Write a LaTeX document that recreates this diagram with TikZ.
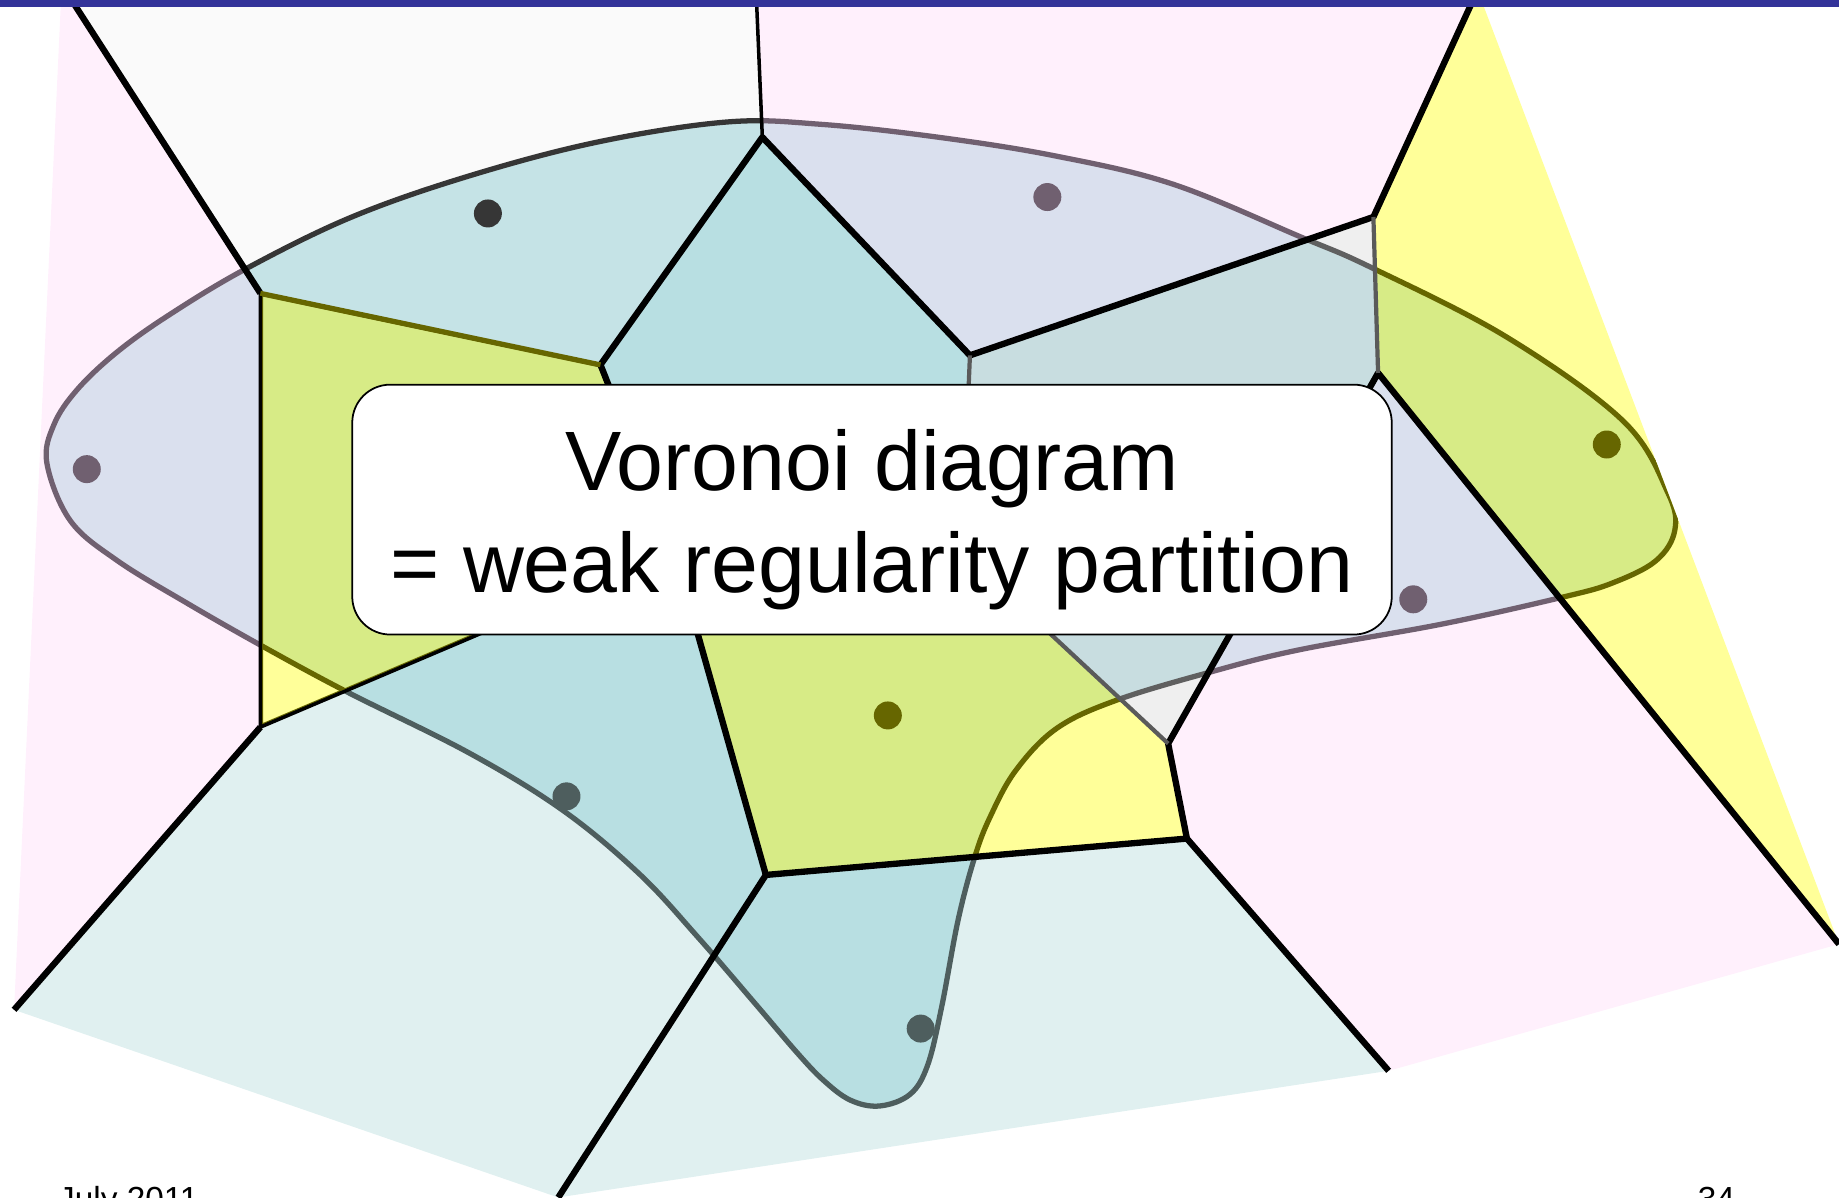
\documentclass[tikz,border=0pt]{standalone}
\usepackage{fontspec}
\setmainfont{Liberation Sans}
\usepackage{tikz}

\definecolor{barblue}{HTML}{333399}
\definecolor{pinkout}{HTML}{FFF0FC}
\definecolor{pinkin}{HTML}{DAE0EE}
\definecolor{pinkline}{HTML}{706070}
\definecolor{greyout}{HTML}{FAFAFA}
\definecolor{greyin}{HTML}{C5E3E6}
\definecolor{greyline}{HTML}{363636}
\definecolor{silverout}{HTML}{EFEFEF}
\definecolor{silverin}{HTML}{C8DDE0}
\definecolor{silverline}{HTML}{606060}
\definecolor{yellowout}{HTML}{FFFF99}
\definecolor{yellowin}{HTML}{D7EB86}
\definecolor{yellowline}{HTML}{666600}
\definecolor{tealout}{HTML}{E0F0F0}
\definecolor{tealin}{HTML}{B8DFE2}
\definecolor{tealline}{HTML}{4E5E5E}
\definecolor{edgegrey}{HTML}{5A5A5A}

% the set that is cut by the partition
\newcommand\blob{plot[smooth cycle,tension=0.6] coordinates {
 (40,395) (46,362) (66,332) (100,300) (145,268) (210,229) (300,185) (400,150)
 (510,121) (620,104) (700,106) (800,117) (900,133) (1000,157) (1109,202)
 (1169,228) (1284,287) (1384,359) (1422,420) (1428,452) (1412,478) (1375,497)
 (1333,509) (1230,532) (1108,554) (1032,573) (952,597) (901,621) (866,657)
 (844,697) (831,731) (817,784) (803,858) (791,908) (776,933) (750,943)
 (725,938) (702,921) (680,898) (645,857) (595,799) (545,745) (480,691)
 (400,642) (296,590) (222,550) (159,514) (100,478) (60,444)}}

\begin{document}
\begin{tikzpicture}[x=0.011728cm,y=-0.011728cm,
  vedge/.style={line width=1.8pt,line join=round},
  thinedge/.style={line width=1pt},
  greyedge/.style={draw=edgegrey,line width=1.2pt},
  oliveedge/.style={draw=yellowline,line width=1.4pt},
  site/.style={circle,inner sep=0pt,minimum size=0.28cm},
  capbox/.style={draw,fill=white,rounded corners=0.38cm,line width=0.5pt,
    minimum width=10.40cm,minimum height=2.50cm},
  captext/.style={align=center,inner sep=0pt,font=\fontsize{24}{29}\selectfont},
  foot/.style={anchor=base west,inner sep=0pt,font=\fontsize{9.5}{11}\selectfont}]
 \useasboundingbox (0,0) rectangle (1568,1021);
 \clip (0,0) rectangle (1568,1021);
 % border points
 \coordinate (T0) at (52,0);
 \coordinate (T1) at (61,0);
 \coordinate (T2) at (645,0);
 \coordinate (T3) at (1256,0);
 \coordinate (T4) at (1263,0);
 \coordinate (R1) at (1568,805);
 \coordinate (B3) at (1184,913);
 \coordinate (B1) at (476,1021);
 \coordinate (B0) at (12,861);
 % vertices
 \coordinate (V1) at (222,250);
 \coordinate (V2) at (650,117);
 \coordinate (V3) at (512,311);
 \coordinate (V4) at (827,303);
 \coordinate (V5) at (1171,185);
 \coordinate (V6) at (1175,318);
 \coordinate (V7) at (996,634);
 \coordinate (V8) at (1012,715);
 \coordinate (V9) at (653,746);
 \coordinate (V10) at (222,620);
 \coordinate (X) at (575,470);
 \coordinate (Y) at (820,470);
 % cells: pale outside the set, darker inside
 \foreach \poly/\outc/\inc/\linec in {
   {(T1)--(T2)--(V2)--(V3)--(V1)}/greyout/greyin/greyline,
   {(T2)--(T3)--(V5)--(V4)--(V2)}/pinkout/pinkin/pinkline,
   {(T0)--(T1)--(V1)--(V10)--(B0)}/pinkout/pinkin/pinkline,
   {(V1)--(V3)--(X)--(V10)}/yellowout/yellowin/yellowline,
   {(V3)--(V2)--(V4)--(Y)--(X)}/tealout/tealin/tealline,
   {(V4)--(V5)--(V6)--(V7)--(Y)}/silverout/silverin/silverline,
   {(T3)--(T4)--(R1)--(V6)--(V5)}/yellowout/yellowin/yellowline,
   {(V6)--(R1)--(B3)--(V8)--(V7)}/pinkout/pinkin/pinkline,
   {(X)--(Y)--(V7)--(V8)--(V9)}/yellowout/yellowin/yellowline,
   {(V10)--(X)--(V9)--(B1)--(B0)}/tealout/tealin/tealline,
   {(V9)--(V8)--(B3)--(B1)}/tealout/tealin/tealline}{
   \fill[\outc] \poly -- cycle;
   \begin{scope}
     \clip \blob;
     \fill[\inc] \poly -- cycle;
   \end{scope}
   \begin{scope}
     \clip \poly -- cycle;
     \draw[\linec,line width=1.5pt] \blob;
   \end{scope}
 }
 % olive rim of the left yellow cell
 \begin{scope}
   \clip (V1) -- (V3) -- (X) -- (V10) -- cycle;
   \draw[yellowline,line width=1.6pt] (V1) -- (V3) -- (X) -- (V10) -- cycle;
 \end{scope}
 % edges
 \draw[vedge] (T1) -- (V1);
 \draw[vedge] (T3) -- (V5) -- (V4) -- (V2) -- (V3) -- (X) -- (V9) -- (V8) -- (V7) -- (V6) -- (R1);
 \draw[vedge] (V9) -- (B1);
 \draw[vedge] (V8) -- (B3);
 \draw[vedge] (V10) -- (B0);
 \draw[thinedge] (T2) -- (V2);
 \draw[thinedge] (V1) -- (V10) -- (X);
 \draw[greyedge] (V5) -- (V6);
 \draw[greyedge] (V4) -- (Y) -- (V7);
 \draw[oliveedge] (V1) -- (V3);
 % sites
 \node[site,fill=greyline] (s1) at (416,182) {};
 \node[site,fill=pinkline] (s2) at (893,168) {};
 \node[site,fill=pinkline] (s3) at (74,400) {};
 \node[site,fill=yellowline] (s7) at (1370,379) {};
 \node[site,fill=pinkline] (s8) at (1205,511) {};
 \node[site,fill=yellowline] (s10) at (757,610) {};
 \node[site,fill=tealline] (s11) at (483,679) {};
 \node[site,fill=tealline] (s12) at (785,877) {};
 % caption
 \node[capbox] (box) at (743.5,434.5) {};
 \node[captext] (caption) at (743.5,443) {Voronoi diagram\\= weak regularity partition};
 % footer and bar
 \node[foot] (date) at (49,1032) {July 2011};
 \node[foot] (page) at (1447,1032) {34};
 \fill[barblue] (0,0) rectangle (1568,5.7);
\end{tikzpicture}
\end{document}
